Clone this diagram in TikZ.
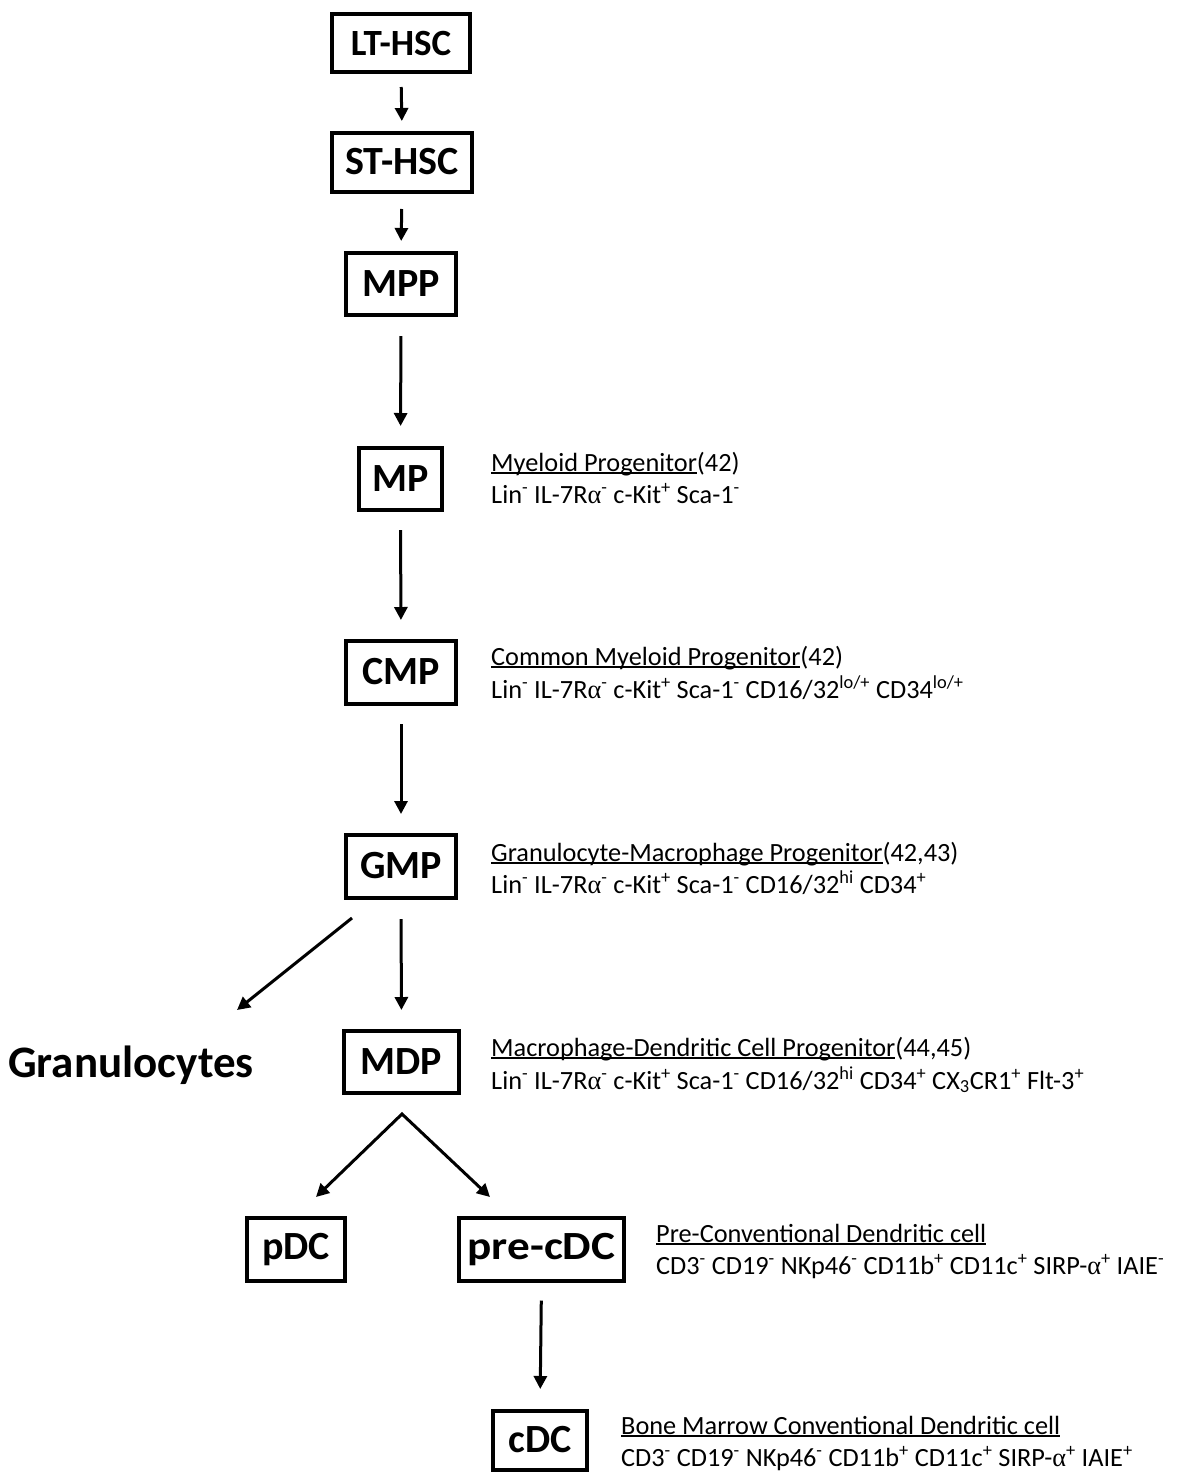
\documentclass[tikz,border=0pt]{standalone}
\usepackage{fontspec}
\setmainfont{Carlito}
\newfontfamily\grk{Liberation Serif}
\usetikzlibrary{arrows.meta}
\newcommand\sps[1]{\textsuperscript{#1}}
\newcommand\myul[1]{\setbox0\hbox{#1}\rlap{\rule[-2.5pt]{\wd0}{1.6pt}}\box0}
\newcommand\al{{\grk α}}
\tikzset{
  cellbox/.style={draw, line width=4pt, inner sep=0pt, align=center,
    font=\fontsize{40}{44}\selectfont\bfseries},
  arr/.style={line width=3pt, -{Triangle[width=13pt,length=13pt]}},
  lbl/.style={anchor=base west, inner sep=0pt, font=\fontsize{26.3}{30}\selectfont},
  bigtxt/.style={anchor=base west, inner sep=0pt, font=\fontsize{45}{50}\selectfont\bfseries}
}
\begin{document}
\begin{tikzpicture}[x=1pt,y=-1pt]
\useasboundingbox (0,0) rectangle (1176,1473);
% boxes
\node[cellbox, minimum width=138pt, minimum height=58pt, font=\fontsize{37}{44}\selectfont\bfseries] (lt) at (401,43) {LT-HSC};
\node[cellbox, minimum width=140pt, minimum height=59pt] (st) at (402,162) {ST-HSC};
\node[cellbox, minimum width=110pt, minimum height=62pt] (mpp) at (401,284) {MPP};
\node[cellbox, minimum width=83pt, minimum height=62pt] (mp) at (400.5,479) {MP};
\node[cellbox, minimum width=110pt, minimum height=63pt] (cmp) at (401,672) {CMP};
\node[cellbox, minimum width=110pt, minimum height=63pt] (gmp) at (401,866) {GMP};
\node[cellbox, minimum width=115pt, minimum height=62pt] (mdp) at (401.5,1062) {MDP};
\node[cellbox, minimum width=98pt, minimum height=63pt] (pdc) at (296,1249.5) {pDC};
\node[cellbox, minimum width=165pt, minimum height=63pt] (precdc) at (541.5,1249.5) {\scalebox{1.13}[1]{pre-cDC}};
\node[cellbox, minimum width=94pt, minimum height=59pt] (cdc) at (540,1440) {cDC};
\node[bigtxt] (gran) at (8,1077) {Granulocytes};
% vertical arrows
\draw[arr, shorten <=13pt, shorten >=9.5pt] (lt.south) -- (st.north);
\draw[arr, shorten <=15.5pt, shorten >=10pt] (st.south) -- (mpp.north);
\draw[arr, shorten <=19pt, shorten >=20pt] (mpp.south) -- (mp.north);
\draw[arr, shorten <=18pt, shorten >=18.5pt] (mp.south) -- (cmp.north);
\draw[arr, shorten <=18.5pt, shorten >=18.5pt] (cmp.south) -- (gmp.north);
\draw[arr, shorten <=19.5pt, shorten >=19pt] (gmp.south) -- (mdp.north);
\draw[arr, shorten <=17.5pt, shorten >=19.5pt] (precdc.south) -- (cdc.north);
% diagonal arrows
\coordinate (gStart) at (352,918);
\coordinate (gEnd) at (237,1010);
\draw[arr] (gStart) -- (gEnd);
\coordinate (split) at (402,1114);
\coordinate (pdcTip) at (316,1197);
\coordinate (precTip) at (490,1197);
\draw[line width=3pt, line join=miter, {Triangle[width=13pt,length=13pt]}-{Triangle[width=13pt,length=13pt]}] (pdcTip) -- (split) -- (precTip);
% labels
\node[lbl] (mpT) at (491,471) {\myul{Myeloid Progenitor}(42)};
\node[lbl] (mpM) at (491,503) {Lin\sps{-} IL-7R\al\sps{-} c-Kit\sps{+} Sca-1\sps{-}};
\node[lbl] (cmpT) at (491,665.5) {\myul{Common Myeloid Progenitor}(42)};
\node[lbl] (cmpM) at (491,698) {Lin\sps{-} IL-7R\al\sps{-} c-Kit\sps{+} Sca-1\sps{-} CD16/32\sps{lo/+} CD34\sps{lo/+}};
\node[lbl] (gmpT) at (491,861) {\myul{Granulocyte-Macrophage Progenitor}(42,43)};
\node[lbl] (gmpM) at (491,893) {Lin\sps{-} IL-7R\al\sps{-} c-Kit\sps{+} Sca-1\sps{-} CD16/32\sps{hi} CD34\sps{+}};
\node[lbl] (mdpT) at (491,1056) {\myul{Macrophage-Dendritic Cell Progenitor}(44,45)};
\node[lbl] (mdpM) at (491,1089) {Lin\sps{-} IL-7R\al\sps{-} c-Kit\sps{+} Sca-1\sps{-} CD16/32\sps{hi} CD34\sps{+} CX\textsubscript{3}CR1\sps{+} Flt-3\sps{+}};
\node[lbl] (preT) at (656,1242) {\myul{Pre-Conventional Dendritic cell}};
\node[lbl] (preM) at (656,1274) {CD3\sps{-} CD19\sps{-} NKp46\sps{-} CD11b\sps{+} CD11c\sps{+} SIRP-\al\sps{+} IAIE\sps{-}};
\node[lbl] (cdcT) at (621,1434) {\myul{Bone Marrow Conventional Dendritic cell}};
\node[lbl] (cdcM) at (621,1466) {CD3\sps{-} CD19\sps{-} NKp46\sps{-} CD11b\sps{+} CD11c\sps{+} SIRP-\al\sps{+} IAIE\sps{+}};
\end{tikzpicture}
\end{document}
